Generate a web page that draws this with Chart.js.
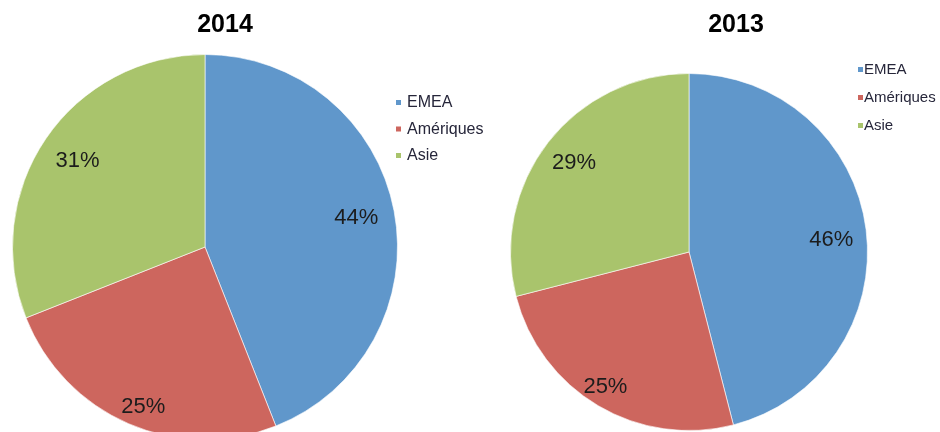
<!DOCTYPE html>
<html>
<head>
<meta charset="utf-8">
<script src="https://cdn.jsdelivr.net/npm/chart.js@4"></script>
<style>
  html, body { margin: 0; padding: 0; background: #fff; overflow: hidden; width: 940px; height: 432px; }
  canvas { position: absolute; top: 0; }
  #c2014 { left: 0; }
  #c2013 { left: 470px; }
</style>
</head>
<body>
<canvas id="c2014" width="520" height="460"></canvas>
<canvas id="c2013" width="470" height="460"></canvas>
<script>
// ---- data ----
const categories = ['EMEA', 'Amériques', 'Asie'];
const years = ['2014', '2013'];
const values2014 = [44, 25, 31];
const values2013 = [46, 25, 29];

// ---- styles ----
const sliceColors = ['#6097CB', '#CD665E', '#A9C46C'];
const FONT = '"Liberation Sans", Arial, Helvetica, sans-serif';

const decor = {
  id: 'decor',
  afterDraw(chart, args, o) {
    const ctx = chart.ctx;
    ctx.save();
    // title
    ctx.fillStyle = '#000';
    ctx.textAlign = 'center';
    ctx.textBaseline = 'middle';
    ctx.font = 'bold 25px ' + FONT;
    ctx.fillText(o.title, o.titleX, o.titleY);
    // percent labels
    const ds = chart.data.datasets[0].data;
    const total = ds.reduce((a, b) => a + b, 0);
    const meta = chart.getDatasetMeta(0);
    ctx.font = o.pctFont + 'px ' + FONT;
    ctx.fillStyle = '#1c1c1c';
    meta.data.forEach((arc, i) => {
      const p = arc.getProps(['x', 'y', 'startAngle', 'endAngle', 'outerRadius'], true);
      const mid = (p.startAngle + p.endAngle) / 2 + (o.angleShift[i] || 0);
      const d = p.outerRadius * o.labelFractions[i];
      ctx.fillText(Math.round(ds[i] / total * 100) + '%', p.x + d * Math.cos(mid), p.y + d * Math.sin(mid));
    });
    // legend
    ctx.textAlign = 'left';
    ctx.font = o.legendFont + 'px ' + FONT;
    chart.data.labels.forEach((lab, i) => {
      const y = o.legendY + i * o.legendGap;
      ctx.fillStyle = chart.data.datasets[0].backgroundColor[i];
      ctx.fillRect(o.legendX, y - 3, 5, 5);
      ctx.fillStyle = '#26263a';
      ctx.fillText(lab, o.legendX + o.legendTextGap, y);
    });
    ctx.restore();
  }
};

function makePie(id, values, title, padding, decorOpts) {
  return new Chart(document.getElementById(id), {
    type: 'pie',
    data: {
      labels: categories,
      datasets: [{
        data: values,
        backgroundColor: sliceColors,
        borderColor: 'rgba(255,255,255,0.6)',
        borderWidth: 1
      }]
    },
    options: {
      responsive: false,
      animation: false,
      events: [],
      layout: { padding: padding },
      plugins: {
        legend: { display: false },
        title: { display: false },
        tooltip: { enabled: false },
        decor: Object.assign({ title: title }, decorOpts)
      }
    },
    plugins: [decor]
  });
}

makePie('c2014', values2014, years[0],
  { left: 12, right: 122, top: 54, bottom: 20 },
  { titleX: 225, titleY: 25, pctFont: 22, labelFractions: [0.8, 0.89, 0.8], angleShift: [0, -0.04, 0],
    legendX: 396, legendY: 103, legendGap: 26.5, legendTextGap: 11, legendFont: 16 });

makePie('c2013', values2013, years[1],
  { left: 40, right: 72, top: 73, bottom: 29 },
  { titleX: 266, titleY: 25, pctFont: 22, labelFractions: [0.8, 0.89, 0.815], angleShift: [0.04, 0.02, 0],
    legendX: 388, legendY: 70, legendGap: 28, legendTextGap: 6, legendFont: 15 });
</script>
</body>
</html>
